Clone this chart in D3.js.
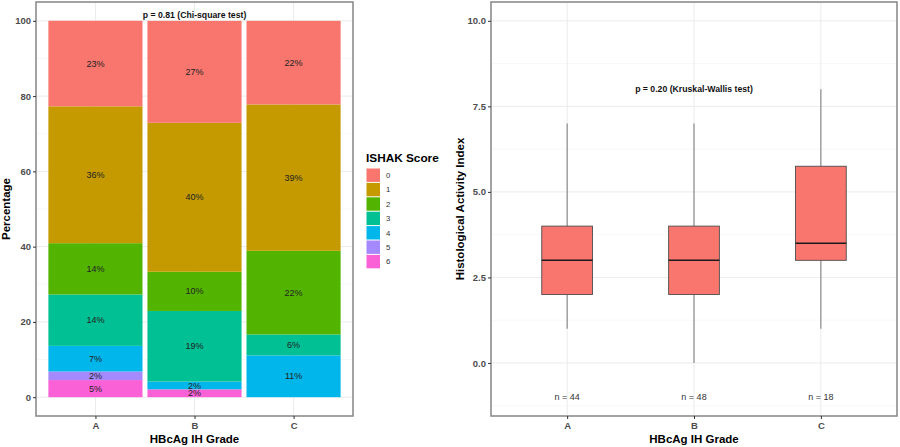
<!DOCTYPE html>
<html>
<head>
<meta charset="utf-8">
<script src="https://cdn.jsdelivr.net/npm/d3@7"></script>
<style>
  html, body { margin: 0; padding: 0; background: #fff; }
  svg { display: block; font-family: "Liberation Sans", Arial, sans-serif; }
</style>
</head>
<body>
<svg id="chart" width="900" height="447"></svg>
<script>
// ---------- DATA ----------
const grades = ["A", "B", "C"];
const ishakScores = ["0", "1", "2", "3", "4", "5", "6"];
const scoreColors = ["#F8766D", "#C49A00", "#53B400", "#00C094", "#00B6EB", "#A58AFF", "#FB61D7"];
// percentage of each ISHAK score (0..6) within each grade
const gradeA = [22.73, 36.36, 13.64, 13.64, 6.82, 2.27, 4.55];
const gradeB = [27.08, 39.58, 10.42, 18.75, 2.08, 0, 2.08];
const gradeC = [22.22, 38.89, 22.22, 5.56, 11.11, 0, 0];
const pctTicks = [0, 20, 40, 60, 80, 100];

// Histological activity index box plot stats per grade
const haiLowerWhisker = [1, 0, 1];
const haiQ1 = [2, 2, 3];
const haiMedian = [3, 3, 3.5];
const haiQ3 = [4, 4, 5.75];
const haiUpperWhisker = [7, 7, 8];
const haiN = [44, 48, 18];
const haiTicks = [0, 2.5, 5, 7.5, 10];

const chiText = "p = 0.81 (Chi-square test)";
const kwText = "p = 0.20 (Kruskal-Wallis test)";

// ---------- SETUP ----------
const svg = d3.select("#chart");
const gridMajor = "#EBEBEB", gridMinor = "#F3F3F3";
const tickColor = "#4D4D4D";
const borderColor = "#8C8C8C";

// ---------- LEFT PANEL ----------
const L = { x: 36, y: 2, w: 317, h: 414 };
const xL = d3.scalePoint().domain(grades).range([L.x + 0.6 * L.w / 3.2, L.x + L.w - 0.6 * L.w / 3.2]);
const stepL = L.w / 3.2;
const yL = d3.scaleLinear().domain([-5, 105]).range([L.y + L.h, L.y]);

const gL = svg.append("g");
// grid
[10, 30, 50, 70, 90].forEach(v => gL.append("line").attr("x1", L.x).attr("x2", L.x + L.w)
  .attr("y1", yL(v)).attr("y2", yL(v)).attr("stroke", gridMinor).attr("stroke-width", 0.6));
pctTicks.forEach(v => gL.append("line").attr("x1", L.x).attr("x2", L.x + L.w)
  .attr("y1", yL(v)).attr("y2", yL(v)).attr("stroke", gridMajor).attr("stroke-width", 1));
grades.forEach(g => gL.append("line").attr("x1", xL(g)).attr("x2", xL(g))
  .attr("y1", L.y).attr("y2", L.y + L.h).attr("stroke", gridMajor).attr("stroke-width", 1));

const gradeRows = [gradeA, gradeB, gradeC].map((arr, i) => {
  const row = { grade: grades[i] };
  ishakScores.forEach((s, j) => row[s] = arr[j]);
  return row;
});
const stack = d3.stack().keys(ishakScores.slice().reverse());
const series = stack(gradeRows);
const color = d3.scaleOrdinal().domain(ishakScores).range(scoreColors);
const barW = stepL * 0.95;

series.forEach(s => {
  s.forEach(d => {
    const v = d[1] - d[0];
    if (v <= 0) return;
    gL.append("rect")
      .attr("x", xL(d.data.grade) - barW / 2)
      .attr("width", barW)
      .attr("y", yL(d[1]))
      .attr("height", yL(d[0]) - yL(d[1]))
      .attr("fill", color(s.key));
  });
});
series.forEach(s => {
  s.forEach(d => {
    const v = d[1] - d[0];
    if (v <= 0) return;
    gL.append("text")
      .attr("x", xL(d.data.grade))
      .attr("y", yL((d[0] + d[1]) / 2))
      .attr("dy", "0.35em")
      .attr("text-anchor", "middle")
      .attr("font-size", 9)
      .attr("fill", "#222")
      .text(Math.round(v) + "%");
  });
});

gL.append("text").attr("x", L.x + L.w / 2).attr("y", 14.7).attr("dy", "0.35em")
  .attr("text-anchor", "middle").attr("font-size", 8.7).attr("font-weight", "bold")
  .attr("fill", "#111").text(chiText);

// border
gL.append("rect").attr("x", L.x).attr("y", L.y).attr("width", L.w).attr("height", L.h)
  .attr("fill", "none").attr("stroke", borderColor).attr("stroke-width", 1.6);

// axes
const axLy = d3.axisLeft(yL).tickValues(pctTicks).tickSize(3).tickPadding(2).tickFormat(d3.format("d"));
const gAxLy = svg.append("g").attr("transform", `translate(${L.x},0)`).call(axLy);
const axLx = d3.axisBottom(xL).tickSize(3).tickPadding(3);
const gAxLx = svg.append("g").attr("transform", `translate(0,${L.y + L.h})`).call(axLx);
[gAxLy, gAxLx].forEach(g => {
  g.select(".domain").remove();
  g.selectAll(".tick line").attr("stroke", "#333").attr("stroke-width", 1);
  g.selectAll(".tick text").attr("fill", tickColor).attr("font-size", 9.5).attr("font-weight", "bold")
    .attr("font-family", "Liberation Sans, Arial, sans-serif");
});

svg.append("text").attr("x", L.x + L.w / 2).attr("y", 443).attr("text-anchor", "middle")
  .attr("font-size", 11.5).attr("font-weight", "bold").attr("fill", "#000").text("HBcAg IH Grade");
svg.append("text").attr("transform", `translate(10,${L.y + L.h / 2}) rotate(-90)`)
  .attr("text-anchor", "middle").attr("font-size", 11.5).attr("font-weight", "bold")
  .attr("fill", "#000").text("Percentage");

// legend
const lg = svg.append("g");
lg.append("text").attr("x", 366).attr("y", 161.5).attr("font-size", 11.8).attr("font-weight", "bold")
  .attr("fill", "#000").text("ISHAK Score");
ishakScores.forEach((s, i) => {
  const y0 = 168.5 + i * 14.4;
  lg.append("rect").attr("x", 366.5).attr("y", y0).attr("width", 13.5).attr("height", 13.4)
    .attr("fill", color(s));
  lg.append("text").attr("x", 386).attr("y", y0 + 6.7).attr("dy", "0.35em").attr("font-size", 7.8)
    .attr("fill", "#333").text(s);
});

// ---------- RIGHT PANEL ----------
const R = { x: 491, y: 2, w: 406, h: 414 };
const stepR = R.w / 3.2;
const xR = d3.scalePoint().domain(grades).range([R.x + 0.6 * stepR, R.x + R.w - 0.6 * stepR]);
const yR = d3.scaleLinear().domain([-1.55, 10.55]).range([R.y + R.h, R.y]);
const gR = svg.append("g");

[-1.25, 1.25, 3.75, 6.25, 8.75].forEach(v => gR.append("line").attr("x1", R.x).attr("x2", R.x + R.w)
  .attr("y1", yR(v)).attr("y2", yR(v)).attr("stroke", gridMinor).attr("stroke-width", 0.6));
haiTicks.forEach(v => gR.append("line").attr("x1", R.x).attr("x2", R.x + R.w)
  .attr("y1", yR(v)).attr("y2", yR(v)).attr("stroke", gridMajor).attr("stroke-width", 1));
grades.forEach(g => gR.append("line").attr("x1", xR(g)).attr("x2", xR(g))
  .attr("y1", R.y).attr("y2", R.y + R.h).attr("stroke", gridMajor).attr("stroke-width", 1));

const boxW = stepR * 0.4;
grades.forEach((g, i) => {
  const cx = xR(g);
  gR.append("line").attr("x1", cx).attr("x2", cx).attr("y1", yR(haiQ3[i])).attr("y2", yR(haiUpperWhisker[i]))
    .attr("stroke", "#777").attr("stroke-width", 1);
  gR.append("line").attr("x1", cx).attr("x2", cx).attr("y1", yR(haiQ1[i])).attr("y2", yR(haiLowerWhisker[i]))
    .attr("stroke", "#777").attr("stroke-width", 1);
  gR.append("rect").attr("x", cx - boxW / 2).attr("width", boxW)
    .attr("y", yR(haiQ3[i])).attr("height", yR(haiQ1[i]) - yR(haiQ3[i]))
    .attr("fill", "#F8766D").attr("stroke", "#4D4D4D").attr("stroke-width", 0.9);
  gR.append("line").attr("x1", cx - boxW / 2).attr("x2", cx + boxW / 2)
    .attr("y1", yR(haiMedian[i])).attr("y2", yR(haiMedian[i]))
    .attr("stroke", "#1A1A1A").attr("stroke-width", 1.6);
  gR.append("text").attr("x", cx).attr("y", yR(-1)).attr("dy", "0.35em").attr("text-anchor", "middle")
    .attr("font-size", 9).attr("fill", "#333").text("n = " + haiN[i]);
});

gR.append("text").attr("x", xR("B")).attr("y", yR(8)).attr("dy", "0.35em").attr("text-anchor", "middle")
  .attr("font-size", 8.7).attr("font-weight", "bold").attr("fill", "#111").text(kwText);

gR.append("rect").attr("x", R.x).attr("y", R.y).attr("width", R.w).attr("height", R.h)
  .attr("fill", "none").attr("stroke", borderColor).attr("stroke-width", 1.6);

const axRy = d3.axisLeft(yR).tickValues(haiTicks).tickSize(3).tickPadding(2).tickFormat(d3.format(".1f"));
const gAxRy = svg.append("g").attr("transform", `translate(${R.x},0)`).call(axRy);
const axRx = d3.axisBottom(xR).tickSize(3).tickPadding(3);
const gAxRx = svg.append("g").attr("transform", `translate(0,${R.y + R.h})`).call(axRx);
[gAxRy, gAxRx].forEach(g => {
  g.select(".domain").remove();
  g.selectAll(".tick line").attr("stroke", "#333").attr("stroke-width", 1);
  g.selectAll(".tick text").attr("fill", tickColor).attr("font-size", 9.5).attr("font-weight", "bold")
    .attr("font-family", "Liberation Sans, Arial, sans-serif");
});

svg.append("text").attr("x", R.x + R.w / 2).attr("y", 443).attr("text-anchor", "middle")
  .attr("font-size", 11.5).attr("font-weight", "bold").attr("fill", "#000").text("HBcAg IH Grade");
svg.append("text").attr("transform", `translate(464,${R.y + R.h / 2}) rotate(-90)`)
  .attr("text-anchor", "middle").attr("font-size", 11.5).attr("font-weight", "bold")
  .attr("fill", "#000").text("Histological Activity Index");
</script>
</body>
</html>
